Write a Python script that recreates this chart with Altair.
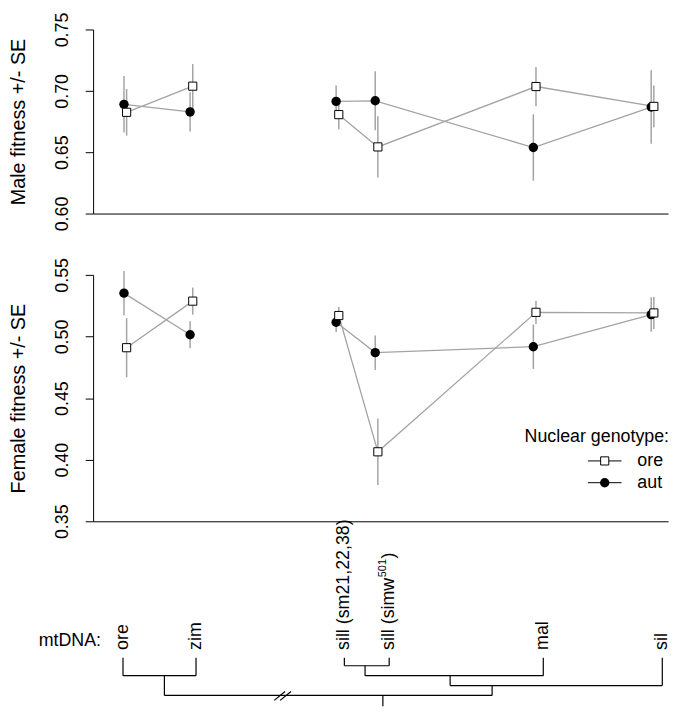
import altair as alt
import pandas as pd

FONT = "Liberation Sans"
GRAY = "#a3a3a3"

# ---- data -------------------------------------------------------------
mtdna = ["ore", "zim", "sill (sm21,22,38)", "sill (simw501)", "mal", "sil"]
mt_x = [5.6, 17.1, 42.5, 49.3, 76.8, 97.3]          # plotting position of each mtDNA
clade = ["mel", "mel", "sim", "sim", "sim", "sim"]    # lines join within a clade

# label pieces: main text, superscript, closing text
label_main = ["ore", "zim", "sill (sm21,22,38)", "sill (simw", "mal", "sil"]
label_sup = ["", "", "", "501", "", ""]
label_end = ["", "", "", ")", "", ""]

male_ore = [0.6825, 0.7038, 0.6806, 0.6543, 0.7035, 0.6873]
male_ore_se = [0.019, 0.018, 0.012, 0.025, 0.016, 0.017]
male_aut = [0.6890, 0.6828, 0.6914, 0.6919, 0.6538, 0.6868]
male_aut_se = [0.023, 0.016, 0.013, 0.024, 0.027, 0.030]

female_ore = [0.4909, 0.5287, 0.5170, 0.4064, 0.5196, 0.5191]
female_ore_se = [0.024, 0.011, 0.007, 0.027, 0.0095, 0.013]
female_aut = [0.5352, 0.5014, 0.5116, 0.4869, 0.4917, 0.5178]
female_aut_se = [0.018, 0.011, 0.008, 0.014, 0.018, 0.014]

male_ticks = [0.60, 0.65, 0.70, 0.75]
female_ticks = [0.35, 0.40, 0.45, 0.50, 0.55]

# mtDNA tree (drawn under the axis)
tree_tip_x = [5.2, 17.9, 43.7, 51.5, 78.3, 99.0]
node_names = ["A", "B", "C", "D", "root"]
node_children = [("ore", "zim"),
                 ("sill (sm21,22,38)", "sill (simw501)"),
                 ("B", "mal"),
                 ("C", "sil"),
                 ("A", "D")]
node_x = [12.4, 47.3, 62.1, 69.4, 50.4]
node_depth = [1.8, 0.8, 1.8, 2.8, 3.8]
root_stem_depth = 4.9

genotypes = ["ore", "aut"]

# ---- tables -----------------------------------------------------------
DODGE = {"aut": -0.23, "ore": 0.23}


def panel_df(ore, ore_se, aut, aut_se):
    rows = []
    for i, m in enumerate(mtdna):
        for g, vals, ses in (("aut", aut, aut_se), ("ore", ore, ore_se)):
            rows.append(dict(mtdna=m, x=mt_x[i] + DODGE[g], grp=g + "-" + clade[i],
                             geno=g, mean=vals[i], lo=vals[i] - ses[i], hi=vals[i] + ses[i]))
    return pd.DataFrame(rows)


male_df = panel_df(male_ore, male_ore_se, male_aut, male_aut_se)
female_df = panel_df(female_ore, female_ore_se, female_aut, female_aut_se)

pos = {m: (x, 0.0) for m, x in zip(mtdna, tree_tip_x)}
for n, x, d in zip(node_names, node_x, node_depth):
    pos[n] = (x, d)
segs = []
for n, (c1, c2), x, d in zip(node_names, node_children, node_x, node_depth):
    segs.append(dict(x=pos[c1][0], x2=pos[c2][0], y=d, y2=d))
    for c in (c1, c2):
        segs.append(dict(x=pos[c][0], x2=pos[c][0], y=pos[c][1], y2=d))
rx, rd = pos["root"]
segs.append(dict(x=rx, x2=rx, y=rd, y2=root_stem_depth))
tree_df = pd.DataFrame(segs)
tips_df = pd.DataFrame({"main": label_main, "sup": label_sup, "end": label_end, "x": tree_tip_x})

# ---- encodings --------------------------------------------------------
XSCALE = alt.Scale(domain=[0, 100], nice=False, zero=False)
x_axis = alt.Axis(labels=False, ticks=False, grid=False, domainColor="black", domainWidth=1)


def y_axis(values):
    return alt.Axis(values=values, format=".2f", grid=False,
                    labelAngle=270, labelAlign="center", labelBaseline="alphabetic",
                    labelPadding=18, labelFontSize=18, labelColor="black",
                    tickSize=8, tickColor="black", tickWidth=1,
                    domainColor="black", domainWidth=1,
                    titleFontSize=20, titleFontWeight="normal", titleColor="black",
                    titleAngle=270, titleBaseline="alphabetic", titlePadding=29)


def panel(df, ydom, yvals, title, h, extra):
    ys = alt.Scale(domain=ydom, nice=False, zero=False)
    xe = alt.X("x:Q", scale=XSCALE, axis=x_axis, title=None)

    def ye(f):
        return alt.Y(f, scale=ys, axis=y_axis(yvals), title=title)

    base = alt.Chart(df)
    err = base.mark_rule(color=GRAY, strokeWidth=1.5).encode(x=xe, y=ye("lo:Q"), y2="hi:Q")
    lines = base.mark_line(color=GRAY, strokeWidth=1.3).encode(x=xe, y=ye("mean:Q"), detail="grp:N")
    circ = base.transform_filter(alt.datum.geno == "aut").mark_circle(
        color="black", size=90, opacity=1).encode(x=xe, y=ye("mean:Q"))
    sq = base.transform_filter(alt.datum.geno == "ore").mark_square(
        fill="white", stroke="black", strokeWidth=1, size=68, opacity=1).encode(x=xe, y=ye("mean:Q"))
    return alt.layer(err, lines, circ, sq, *extra).properties(width=581, height=h)


# legend (inside the female panel)
leg_title = alt.Chart(pd.DataFrame({"t": ["Nuclear genotype:"]})).mark_text(
    align="right", baseline="alphabetic", fontSize=18, color="black").encode(
    text="t:N", x=alt.value(582), y=alt.value(169))
legend_layers = [leg_title]
for i, g in enumerate(genotypes):
    yy = 188 + 22 * i
    gdf = pd.DataFrame({"g": [g]})
    legend_layers.append(alt.Chart(gdf).mark_rule(color="black", strokeWidth=1).encode(
        x=alt.value(500), x2=alt.value(534), y=alt.value(yy)))
    if g == "ore":
        legend_layers.append(alt.Chart(gdf).mark_square(
            fill="white", stroke="black", strokeWidth=1, size=68, opacity=1).encode(
            x=alt.value(517), y=alt.value(yy)))
    else:
        legend_layers.append(alt.Chart(gdf).mark_circle(color="black", size=90, opacity=1).encode(
            x=alt.value(517), y=alt.value(yy)))
    legend_layers.append(alt.Chart(gdf).mark_text(
        align="left", baseline="middle", fontSize=18, color="black").encode(
        text="g:N", x=alt.value(550), y=alt.value(yy)))

p1 = panel(male_df, [0.60, 0.75], male_ticks, "Male fitness +/- SE", 186, [])
p2 = panel(female_df, [0.35, 0.55], female_ticks, "Female fitness +/- SE", 249, legend_layers)

# tree panel
TX = alt.X("x:Q", scale=XSCALE, axis=None)
TY = alt.Scale(domain=[-7.6, 4.9], nice=False, zero=False, reverse=True)
tree = alt.Chart(tree_df).mark_rule(color="black", strokeWidth=1.2).encode(
    x=TX, x2="x2:Q", y=alt.Y("y:Q", scale=TY, axis=None), y2="y2:Q")
tips_base = alt.Chart(tips_df)
tips = tips_base.mark_text(
    angle=270, align="left", baseline="middle", fontSize=18, color="black").encode(
    x=TX, y=alt.value(68), text="main:N")
# "sill (simw" is 73 px long at 18 px; superscript then closing bracket
tips_sup = tips_base.transform_filter(alt.datum.sup != "").mark_text(
    angle=270, align="left", baseline="middle", fontSize=11, color="black", dx=73.5, dy=-6).encode(
    x=TX, y=alt.value(68), text="sup:N")
tips_end = tips_base.transform_filter(alt.datum.end != "").mark_text(
    angle=270, align="left", baseline="middle", fontSize=18, color="black", dx=92.5).encode(
    x=TX, y=alt.value(68), text="end:N")
mt_lab = alt.Chart(pd.DataFrame({"t": ["mtDNA:"]})).mark_text(
    align="right", baseline="middle", fontSize=18, color="black").encode(
    text="t:N", x=alt.value(8), y=alt.value(59))
brk_df = pd.DataFrame({"k": [0]})
brk1 = alt.Chart(brk_df).mark_rule(color="black", strokeWidth=1.2).encode(
    x=alt.value(183), x2=alt.value(194), y=alt.value(119), y2=alt.value(110))
brk2 = alt.Chart(brk_df).mark_rule(color="black", strokeWidth=1.2).encode(
    x=alt.value(189), x2=alt.value(200), y=alt.value(119), y2=alt.value(110))
p3 = alt.layer(tree, tips, tips_sup, tips_end, mt_lab, brk1, brk2).properties(width=581, height=125)

chart = alt.vconcat(p1, p2, p3, spacing=62, bounds="flush").properties(
    padding={"left": 0, "right": 0, "top": 0, "bottom": 0}
).configure(font=FONT).configure_view(strokeWidth=0, stroke="transparent")

chart.save("out.html", embed_options={"renderer": "svg", "actions": False})
